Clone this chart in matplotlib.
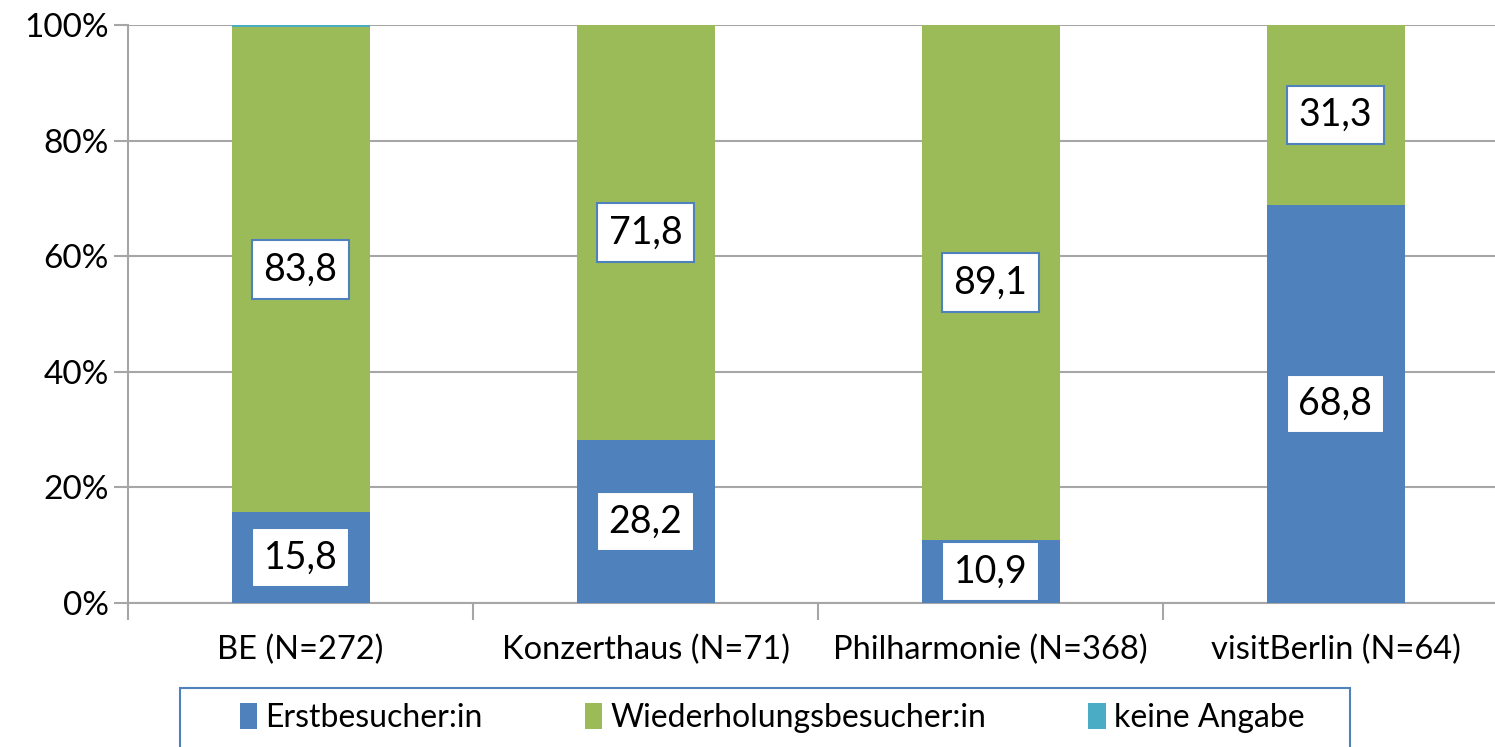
import numpy as np
import matplotlib.pyplot as plt
from matplotlib.patches import Rectangle
from matplotlib.ticker import PercentFormatter

plt.rcParams['font.family'] = ['Lato', 'DejaVu Sans']

categories = ['BE (N=272)', 'Konzerthaus (N=71)', 'Philharmonie (N=368)', 'visitBerlin (N=64)']
erst = [15.8, 28.2, 10.9, 68.8]
wieder = [83.8, 71.8, 89.1, 31.3]
keine = [0.4, 0.0, 0.0, 0.0]
series_names = ['Erstbesucher:in', 'Wiederholungsbesucher:in', 'keine Angabe']
colors = ['#4F81BD', '#9BBB59', '#4BACC6']

fig = plt.figure(figsize=(14.95, 7.47), dpi=100)
ax = fig.add_axes([128 / 1495, 1 - 603 / 747, 1380 / 1495, 578 / 747])

x = np.arange(len(categories))
width = 0.4
bottom = np.zeros(len(categories))
bars = []
for vals, name, c in zip([erst, wieder, keine], series_names, colors):
    b = ax.bar(x, vals, width, bottom=bottom, color=c, label=name, zorder=3)
    bars.append((b, vals, bottom.copy()))
    bottom += np.array(vals)

# data labels for the first two series
for b, vals, bot in bars[:2]:
    for xi, v, b0 in zip(x, vals, bot):
        ax.text(xi, b0 + v / 2, f'{v:.1f}'.replace('.', ','), ha='center', va='center',
                fontsize=27, zorder=5,
                bbox=dict(boxstyle='square,pad=0.3', fc='white', ec='#4F81BD', lw=1.5))

ax.set_xlim(-0.5, 3.5)
ax.set_ylim(0, 100)
ax.set_yticks(np.arange(0, 101, 20))
ax.yaxis.set_major_formatter(PercentFormatter(decimals=0))
ax.set_xticks(x)
ax.set_xticklabels(categories)
ax.set_xticks(np.arange(-0.5, 4, 1), minor=True)
ax.tick_params(axis='x', which='major', length=0, pad=23, labelsize=23.5)
ax.tick_params(axis='x', which='minor', length=12, color='#A6A6A6', width=1.5)
ax.tick_params(axis='y', length=10, color='#A6A6A6', width=1.5, labelsize=24, pad=4)
ax.grid(axis='y', color='#A6A6A6', lw=1.5, zorder=0)
for s in ['top', 'right']:
    ax.spines[s].set_visible(False)
ax.spines['left'].set_color('#A6A6A6')
ax.spines['bottom'].set_color('#A6A6A6')
ax.spines['left'].set_linewidth(1.5)
ax.spines['bottom'].set_linewidth(1.5)

# legend frame (runs off the bottom edge like the original)
fig.patches.append(Rectangle((180 / 1495, -0.05), 1170 / 1495, 0.05 + 1 - 688 / 747,
                             transform=fig.transFigure, fc='white', ec='#4F81BD', lw=1.5))
leg = fig.legend(loc='center', bbox_to_anchor=(772 / 1495, 1 - 718 / 747),
                 ncol=3, fontsize=23, frameon=False,
                 handlelength=0.55, handleheight=0.85, handletextpad=0.25,
                 columnspacing=3.2)

fig.savefig('out.png', dpi=100)
